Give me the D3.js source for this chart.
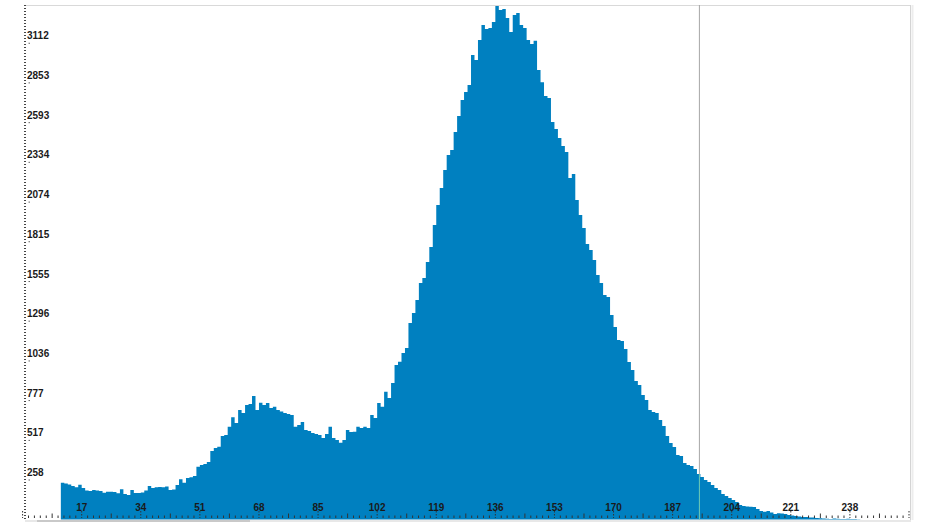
<!DOCTYPE html>
<html>
<head>
<meta charset="utf-8">
<script src="https://cdn.jsdelivr.net/npm/d3@7"></script>
<style>
  html, body { margin: 0; padding: 0; background: #fff; overflow: hidden; }
  svg { display: block; font-family: "Liberation Sans", Arial, sans-serif; }
</style>
</head>
<body>
<div id="container"></div>
<script>
// histogram data: counts per grey level, starting at FIRST_LEVEL
const FIRST_LEVEL = 11;
const counts = [
    240, 235, 229, 219, 210, 227, 206, 190, 186, 193,
    190, 186, 175, 182, 182, 180, 171, 197, 167, 160,
    193, 173, 173, 176, 190, 219, 206, 210, 212, 210,
    216, 193, 196, 225, 263, 240, 271, 276, 284, 345,
    356, 363, 376, 448, 467, 476, 546, 552, 606, 668,
    631, 716, 696, 748, 755, 807, 716, 763, 748, 761,
    729, 737, 716, 706, 696, 689, 683, 606, 618, 637,
    585, 578, 565, 559, 552, 533, 559, 606, 533, 520,
    502, 520, 585, 572, 574, 606, 598, 606, 598, 683,
    663, 761, 737, 835, 794, 892, 1010, 1031, 1088, 1121,
    1284, 1350, 1434, 1546, 1578, 1683, 1781, 1925, 2055, 2166,
    2284, 2382, 2415, 2532, 2637, 2742, 2794, 2840, 3036, 3003,
    3134, 3232, 3205, 3212, 3251, 3356, 3330, 3336, 3277, 3186,
    3297, 3310, 3232, 3212, 3134, 3107, 3129, 2937, 2858, 2767,
    2755, 2598, 2552, 2493, 2441, 2402, 2232, 2258, 2088, 1990,
    1905, 1800, 1761, 1696, 1598, 1546, 1467, 1454, 1336, 1258,
    1173, 1166, 1114, 1029, 977, 905, 879, 814, 781, 716,
    702, 696, 650, 611, 546, 500, 474, 422, 415, 369,
    356, 350, 330, 297, 278, 258, 245, 225, 206, 193,
    167, 154, 140, 127, 114, 95, 88, 85, 84, 82,
    69, 56, 51, 56, 46, 36, 41, 39, 36, 29,
    26, 23, 20, 16, 16, 13, 13, 10, 8, 6,
    5, 4, 6, 5, 4, 3, 5, 4, 3, 2
];
const xTicks = [17, 34, 51, 68, 85, 102, 119, 136, 153, 170, 187, 204, 221, 238];
const yTicks = [258, 517, 777, 1036, 1296, 1555, 1815, 2074, 2334, 2593, 2853, 3112];
const MARKER = 194.7;
const MAX_LEVEL = 255;
const MAX_COUNT = 3362;

// layout constants
const WIDTH = 928;
const HEIGHT = 522;
const LEFT = 22.6, RIGHT = 909;
const TOP = 5, BASE = 519.5;
const FILL = "#0080c0";

const svg = d3.select("#container")
    .append("svg")
    .attr("width", WIDTH)
    .attr("height", HEIGHT);

const x = d3.scaleLinear().domain([0, MAX_LEVEL]).range([LEFT, RIGHT]);
const y = d3.scaleLinear().domain([0, MAX_COUNT]).range([BASE, TOP]);

// frame
svg.append("line")
    .attr("x1", 25).attr("x2", 910.5).attr("y1", TOP + 0.5).attr("y2", TOP + 0.5)
    .attr("stroke", "#d9d9d9");
svg.append("line")
    .attr("x1", 910.5).attr("x2", 910.5).attr("y1", TOP).attr("y2", 520)
    .attr("stroke", "#d4d4d4");
svg.append("rect")
    .attr("x", 911.5).attr("y", TOP).attr("width", 2).attr("height", 515)
    .attr("fill", "#ededed");

// bottom strip (scroll bar)
svg.append("rect")
    .attr("x", 25).attr("y", 520).attr("width", 886).attr("height", 2)
    .attr("fill", "#e8e8e8");
svg.append("rect")
    .attr("x", 37).attr("y", 520).attr("width", 213).attr("height", 2)
    .attr("fill", "#c9c9c9");

// histogram as stepped area
const points = counts.map((c, i) => ({ level: FIRST_LEVEL + i, count: c }));
points.push({ level: FIRST_LEVEL + counts.length, count: 0 });

const area = d3.area()
    .curve(d3.curveStepAfter)
    .x(d => x(d.level))
    .y0(y(0))
    .y1(d => y(d.count));

svg.append("path")
    .datum(points)
    .attr("d", area)
    .attr("fill", FILL);

// marker line
const markerCount = counts[Math.floor(MARKER) - FIRST_LEVEL];
svg.append("line")
    .attr("x1", x(MARKER)).attr("x2", x(MARKER))
    .attr("y1", TOP).attr("y2", y(markerCount))
    .attr("stroke", "#a6a6a6");
svg.append("line")
    .attr("x1", x(MARKER)).attr("x2", x(MARKER))
    .attr("y1", y(markerCount)).attr("y2", BASE)
    .attr("stroke", "#6fcbb4");

// y axis: dotted line, small ticks, labels
svg.append("line")
    .attr("x1", 25).attr("x2", 25).attr("y1", TOP).attr("y2", BASE)
    .attr("stroke", "#444").attr("stroke-width", 2)
    .attr("stroke-dasharray", "1,2");

svg.selectAll(".ytick")
    .data(yTicks)
    .enter()
    .append("line")
    .attr("class", "ytick")
    .attr("x1", 28.5).attr("x2", 30)
    .attr("y1", d => y(d)).attr("y2", d => y(d))
    .attr("stroke", "#666");

svg.selectAll(".ylabel")
    .data(yTicks)
    .enter()
    .append("text")
    .attr("class", "ylabel")
    .attr("x", 27)
    .attr("y", d => y(d) - 4)
    .attr("font-size", 10)
    .attr("font-weight", "bold")
    .attr("fill", "#1a1a1a")
    .text(d => d);

// x axis: minor, mid and major ticks
const minor = d3.range(0, MAX_LEVEL + 0.5, 1.7);
svg.selectAll(".xminor")
    .data(minor)
    .enter()
    .append("line")
    .attr("class", "xminor")
    .attr("x1", d => x(d)).attr("x2", d => x(d))
    .attr("y1", (d, i) => i % 10 === 0 ? 511 : (i % 5 === 0 ? 513.5 : 515.5))
    .attr("y2", 518)
    .attr("stroke", "#333")
    .attr("stroke-dasharray", (d, i) => i % 10 === 0 ? "1.5,1.5" : null);

svg.selectAll(".xlabel")
    .data(xTicks)
    .enter()
    .append("text")
    .attr("class", "xlabel")
    .attr("x", d => x(d))
    .attr("y", 510.5)
    .attr("text-anchor", "middle")
    .attr("font-size", 10)
    .attr("font-weight", "bold")
    .attr("fill", "#1a1a1a")
    .text(d => d);
</script>
</body>
</html>
